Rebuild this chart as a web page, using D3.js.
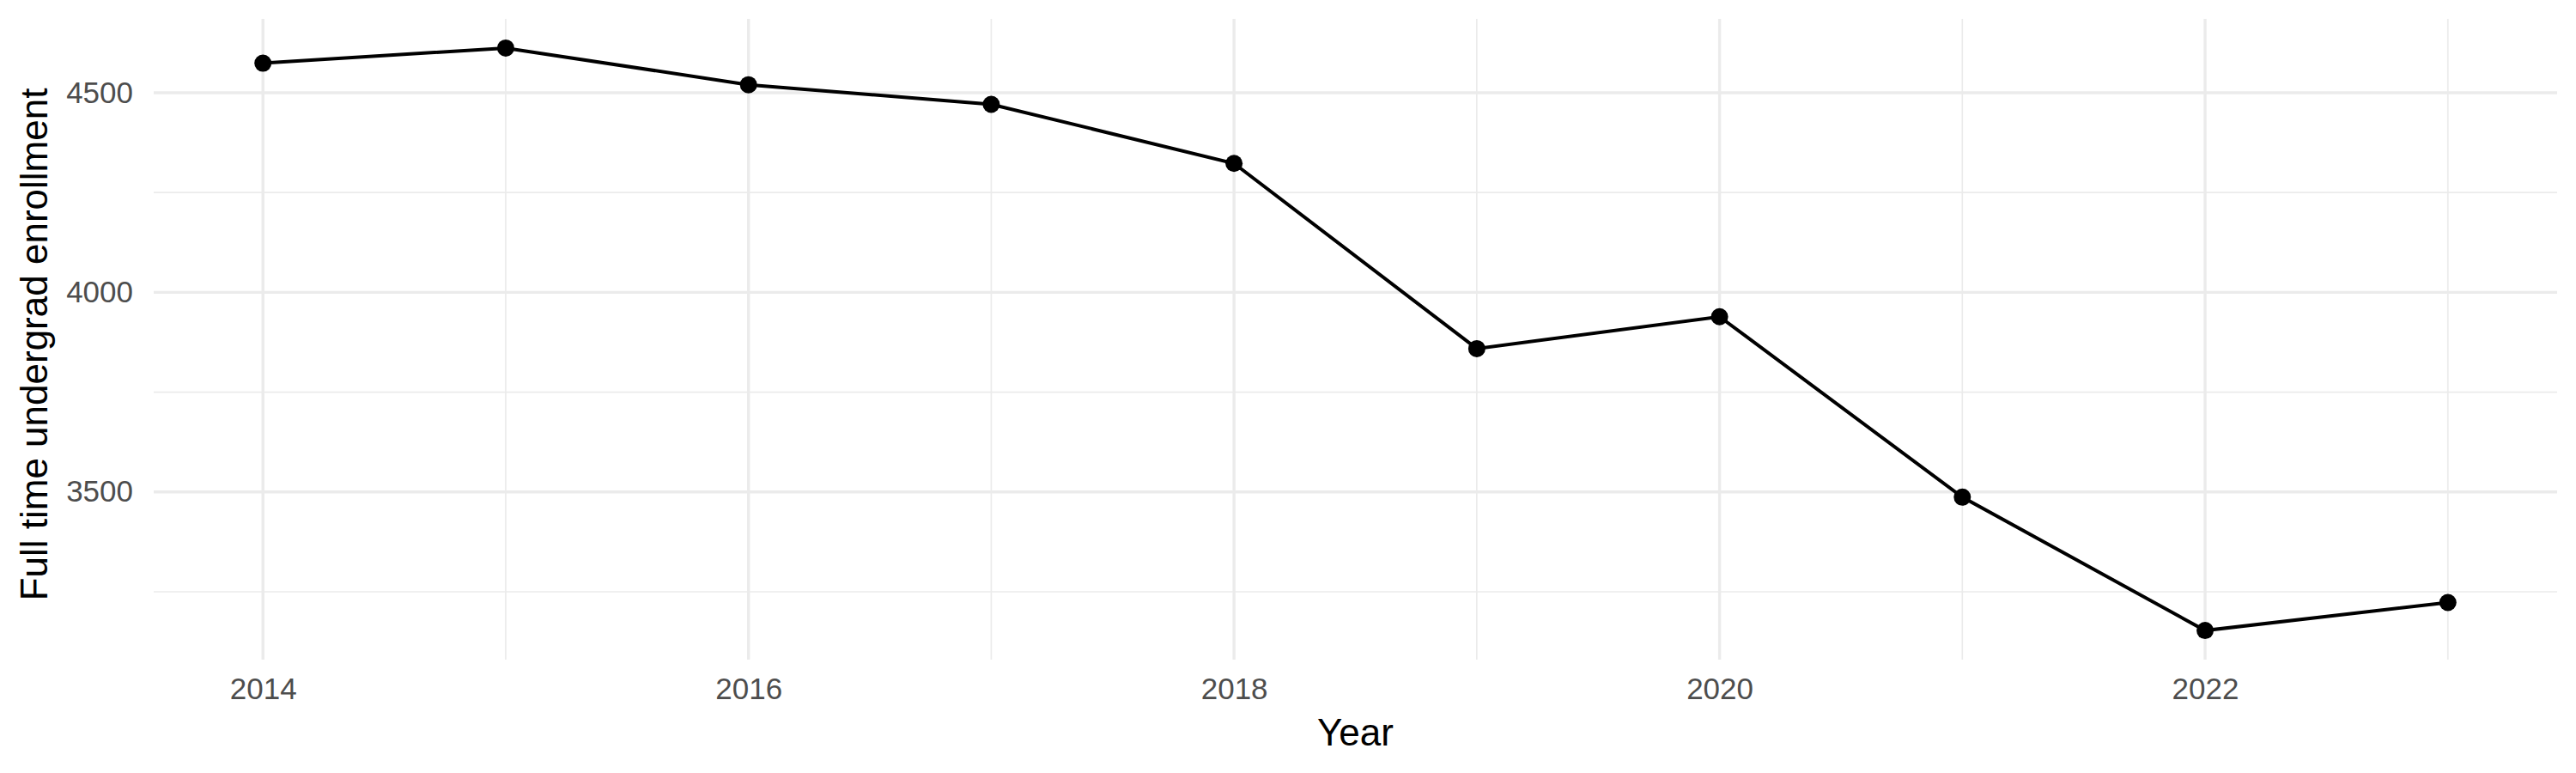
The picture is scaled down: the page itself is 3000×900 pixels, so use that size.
<!DOCTYPE html>
<html>
<head>
<meta charset="utf-8">
<script src="https://cdn.jsdelivr.net/npm/d3@7"></script>
<style>
  body { margin: 0; background: #fff; }
  text { font-family: "Liberation Sans", Arial, sans-serif; }
</style>
</head>
<body>
<div id="chart"></div>
<script>
// data
var years = [2014, 2015, 2016, 2017, 2018, 2019, 2020, 2021, 2022, 2023];
var enrollment = [4574, 4612, 4520, 4471, 4323, 3859, 3939, 3487, 3153, 3223];
var xMajor = [2014, 2016, 2018, 2020, 2022];
var xMinor = [2015, 2017, 2019, 2021, 2023];
var yMajor = [3500, 4000, 4500];
var yMinor = [3250, 3750, 4250];

var width = 3000, height = 900;
var margin = {top: 22, right: 22, bottom: 132, left: 179};

var svg = d3.select("#chart")
  .append("svg")
    .attr("width", width)
    .attr("height", height);

// ggplot style 5% expansion
var xr = d3.extent(years), yr = d3.extent(enrollment);
var xpad = (xr[1] - xr[0]) * 0.05, ypad = (yr[1] - yr[0]) * 0.05;

var x = d3.scaleLinear()
  .domain([xr[0] - xpad, xr[1] + xpad])
  .range([margin.left, width - margin.right]);

var y = d3.scaleLinear()
  .domain([yr[0] - ypad, yr[1] + ypad])
  .range([height - margin.bottom, margin.top]);

var grid = svg.append("g");

// minor grid
grid.selectAll(".hminor").data(yMinor).enter().append("line")
  .attr("x1", x.range()[0]).attr("x2", x.range()[1])
  .attr("y1", y).attr("y2", y)
  .attr("stroke", "#ebebeb").attr("stroke-width", 1.7);
grid.selectAll(".vminor").data(xMinor).enter().append("line")
  .attr("y1", y.range()[0]).attr("y2", y.range()[1])
  .attr("x1", x).attr("x2", x)
  .attr("stroke", "#ebebeb").attr("stroke-width", 1.7);

// major grid
grid.selectAll(".hmajor").data(yMajor).enter().append("line")
  .attr("x1", x.range()[0]).attr("x2", x.range()[1])
  .attr("y1", y).attr("y2", y)
  .attr("stroke", "#ebebeb").attr("stroke-width", 3.4);
grid.selectAll(".vmajor").data(xMajor).enter().append("line")
  .attr("y1", y.range()[0]).attr("y2", y.range()[1])
  .attr("x1", x).attr("x2", x)
  .attr("stroke", "#ebebeb").attr("stroke-width", 3.4);

// axes (no domain line, no ticks, like theme_minimal)
var xAxis = svg.append("g")
  .attr("transform", "translate(0," + y.range()[0] + ")")
  .call(d3.axisBottom(x).tickValues(xMajor).tickFormat(d3.format("d")).tickSize(0).tickPadding(21));
var yAxis = svg.append("g")
  .attr("transform", "translate(" + x.range()[0] + ",0)")
  .call(d3.axisLeft(y).tickValues(yMajor).tickFormat(d3.format("d")).tickSize(0).tickPadding(24));

[xAxis, yAxis].forEach(function(a) {
  a.select(".domain").remove();
  a.selectAll("text")
    .style("font-family", "Liberation Sans, Arial, sans-serif")
    .style("font-size", "35px")
    .attr("fill", "#4d4d4d");
});

// line + points
var line = d3.line()
  .x(function(d, i) { return x(years[i]); })
  .y(function(d) { return y(d); });

svg.append("path")
  .datum(enrollment)
  .attr("d", line)
  .attr("fill", "none")
  .attr("stroke", "#000")
  .attr("stroke-width", 4);

svg.selectAll(".pt")
  .data(enrollment)
  .enter()
  .append("circle")
    .attr("cx", function(d, i) { return x(years[i]); })
    .attr("cy", function(d) { return y(d); })
    .attr("r", 10)
    .attr("fill", "#000");

// titles
svg.append("text")
  .attr("x", (x.range()[0] + x.range()[1]) / 2)
  .attr("y", 868)
  .attr("text-anchor", "middle")
  .style("font-size", "44px")
  .text("Year");

svg.append("text")
  .attr("transform", "translate(55," + ((y.range()[0] + y.range()[1]) / 2 + 6) + ") rotate(-90)")
  .attr("text-anchor", "middle")
  .style("font-size", "44px")
  .text("Full time undergrad enrollment");
</script>
</body>
</html>
